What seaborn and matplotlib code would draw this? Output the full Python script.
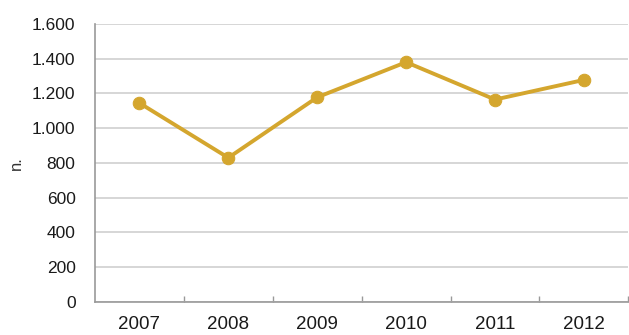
import pandas as pd
import numpy as np
import matplotlib.pyplot as plt
import seaborn as sns
from matplotlib.ticker import FuncFormatter, FixedLocator

years = ["2007", "2008", "2009", "2010", "2011", "2012"]
values = [1145, 830, 1178, 1380, 1165, 1278]
y_ticks = [0, 200, 400, 600, 800, 1000, 1200, 1400, 1600]

sns.set_theme(style="white")
plt.rcParams["font.family"] = ["Liberation Sans", "DejaVu Sans"]

df = pd.DataFrame({"year": years, "n": values})

fig = plt.figure(figsize=(6.29, 3.35), dpi=100)
ax = fig.add_axes([0.151, 0.0985, 0.848, 0.83])

sns.lineplot(data=df, x="year", y="n", ax=ax, color="#D4A62E",
             linewidth=2.8, marker="o", markersize=9,
             markeredgecolor="#D4A62E")

ax.set_xlim(-0.5, len(years) - 0.5)
ax.set_ylim(0, 1600)
ax.set_yticks(y_ticks)
ax.yaxis.set_major_formatter(FuncFormatter(lambda v, p: f"{int(v):,}".replace(",", ".")))
ax.yaxis.grid(True, color="#d3d3d3", linewidth=1.3)
ax.set_axisbelow(True)

ax.xaxis.set_minor_locator(FixedLocator(np.arange(0.5, len(years), 1.0)))
ax.tick_params(axis="x", which="major", length=0, labelsize=13.5, pad=10, colors="#1a1a1a")
ax.tick_params(axis="x", which="minor", length=4, width=1, color="#999999", direction="in", bottom=True)
ax.tick_params(axis="y", length=0, labelsize=12.5, pad=14, colors="#1a1a1a")

for side in ["top", "right"]:
    ax.spines[side].set_visible(False)
for side in ["left", "bottom"]:
    ax.spines[side].set_color("#999999")
    ax.spines[side].set_linewidth(1.2)

ax.set_xlabel("")
ax.set_ylabel("n.", fontsize=12, color="#333333", labelpad=6)

fig.savefig("out.png", dpi=100)
